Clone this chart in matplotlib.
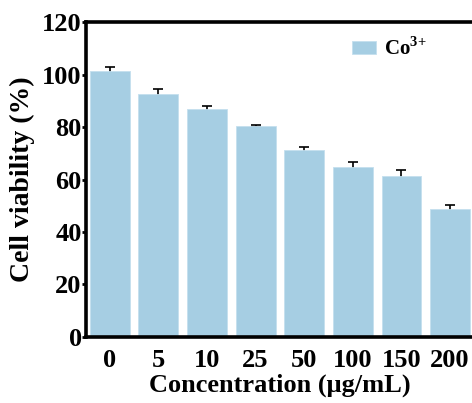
import numpy as np
import matplotlib.pyplot as plt

concentrations = ['0', '5', '10', '25', '50', '100', '150', '200']
viability = [101.5, 92.7, 87.0, 80.3, 71.2, 64.8, 61.3, 48.6]
errors = [1.5, 1.8, 1.1, 0.4, 1.3, 2.0, 2.2, 1.8]

plt.rcParams['font.family'] = ['Liberation Serif', 'DejaVu Serif']
plt.rcParams['font.weight'] = 'bold'
plt.rcParams['mathtext.fontset'] = 'custom'
plt.rcParams['mathtext.rm'] = 'Liberation Serif:bold'
plt.rcParams['mathtext.bf'] = 'Liberation Serif:bold'

fig = plt.figure(figsize=(4.72, 4.03), dpi=100)
ax = fig.add_axes([0.182, 0.164, 0.822, 0.781])

x = np.arange(len(concentrations))
ax.errorbar(x, viability, yerr=errors, fmt='none', ecolor='black',
            elinewidth=1.2, capsize=3.5, capthick=1.2, zorder=1)
ax.bar(x, viability, width=0.82, color='#a6cee3', edgecolor='#c4dfee',
       linewidth=0.6, zorder=2, label='Co$^{3{+}}$')

ax.set_xlim(-0.49, 7.49)
ax.set_ylim(0, 120)
ax.set_yticks(np.arange(0, 121, 20))
ax.set_xticks(x)
ax.set_xticklabels(concentrations)

for s in ax.spines.values():
    s.set_linewidth(2.6)
ax.tick_params(axis='y', direction='out', length=3, width=2, labelsize=19, pad=0)
ax.tick_params(axis='x', length=0, labelsize=19, pad=9)

ax.set_xlabel('Concentration (μg/mL)', fontsize=19, fontweight='bold', labelpad=1)
ax.set_ylabel('Cell viability (%)', fontsize=20, fontweight='bold', labelpad=5)

ax.legend(loc='upper left', bbox_to_anchor=(0.637, 1.012), frameon=False,
          fontsize=15, handlelength=1.15, handleheight=0.55, handletextpad=0.4)

fig.savefig('out.png', dpi=100)
